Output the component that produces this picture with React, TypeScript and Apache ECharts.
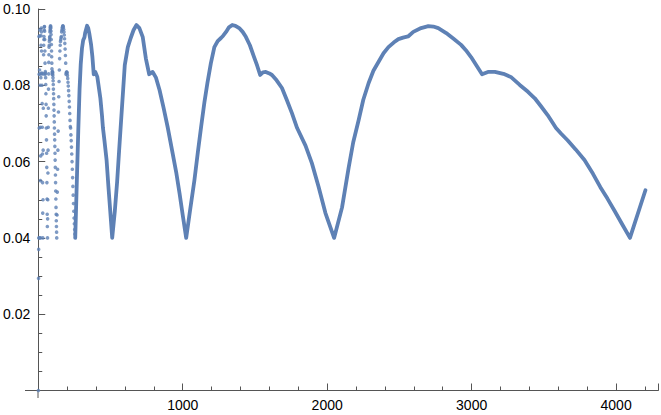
import React, { useEffect, useRef } from "react";
import * as echarts from "echarts";

// Sparse dots, n = 1..7
const dotsN1to7 = [0, 0.0294, 0.037, 0.04, 0.0928, 0.0829, 0.0688];
// n = 8..15
const dotsN8to15 = [0.04, 0.084, 0.093, 0.0945, 0.083, 0.08, 0.069, 0.055];
// n = 16..31
const dotsN16to31 = [
  0.04, 0.0615, 0.082, 0.0905, 0.093, 0.095, 0.094, 0.089, 0.083, 0.0832, 0.08,
  0.0752, 0.069, 0.062, 0.0545, 0.0465,
];
// n = 32..63
const dotsN32to63 = [
  0.04, 0.05, 0.063, 0.074, 0.083, 0.088, 0.0905, 0.092, 0.0928, 0.0945, 0.0953,
  0.0954, 0.0942, 0.092, 0.089, 0.0858, 0.0829, 0.0836, 0.0832, 0.082, 0.0802,
  0.0778, 0.075, 0.072, 0.0688, 0.0657, 0.0622, 0.0585, 0.0545, 0.0502, 0.0462,
  0.043,
];
// n = 64..127
const dotsN64to127 = [
  0.04, 0.045, 0.05, 0.057, 0.063, 0.069, 0.074, 0.079, 0.083, 0.086, 0.088,
  0.09, 0.0905, 0.0915, 0.092, 0.0925, 0.0928, 0.094, 0.0945, 0.095, 0.0953,
  0.0956, 0.0954, 0.095, 0.0942, 0.0933, 0.092, 0.0907, 0.089, 0.0875, 0.0858,
  0.0843, 0.0829, 0.0834, 0.0836, 0.0835, 0.0832, 0.0827, 0.082, 0.0812, 0.0802,
  0.079, 0.0778, 0.0765, 0.075, 0.0735, 0.072, 0.0704, 0.0688, 0.0672, 0.0657,
  0.064, 0.0622, 0.0604, 0.0585, 0.0565, 0.0545, 0.0523, 0.0502, 0.048, 0.0462,
  0.0445, 0.043, 0.0415,
];
// n = 128, 130, ..., 254
const dotsN128to254 = [
  0.04, 0.046, 0.052, 0.058, 0.063, 0.068, 0.073, 0.077, 0.081, 0.084, 0.087,
  0.089, 0.0905, 0.0915, 0.092, 0.0925, 0.0928, 0.094, 0.0945, 0.095, 0.0953,
  0.0956, 0.0955, 0.0952, 0.0947, 0.094, 0.0932, 0.0922, 0.091, 0.0895, 0.0878,
  0.0858, 0.0829, 0.0833, 0.0835, 0.0835, 0.0832, 0.0826, 0.0818, 0.0808, 0.0798,
  0.0786, 0.0773, 0.0758, 0.0743, 0.0726, 0.0708, 0.0692, 0.0688, 0.067, 0.0655,
  0.0638, 0.062, 0.06, 0.058, 0.0558, 0.0535, 0.0512, 0.049, 0.047, 0.0452,
  0.0437, 0.0422, 0.041,
];

// Dense part (n >= 256), drawn as a thick line
const curveN = [
  256, 262, 269, 277, 286, 294, 303, 311, 320, 325, 338, 346, 353, 366, 375, 384,
  389, 395, 409, 417, 430, 441, 448, 458, 473, 486, 498,
  512, 530, 546, 560, 576, 588, 599, 620, 640, 660, 680, 700, 723, 745, 768, 792,
  815, 840, 868, 896, 930, 955, 978, 1000,
  1024, 1050, 1081, 1105, 1127, 1150, 1171, 1195, 1219, 1242, 1265, 1280, 1300,
  1320, 1343, 1365, 1391, 1415, 1437, 1465, 1494, 1515, 1536, 1555, 1575, 1600,
  1618, 1650, 1687, 1720, 1756, 1792, 1850, 1894, 1940, 1988,
  2048, 2103, 2149, 2180, 2218, 2250, 2287, 2320, 2355, 2390, 2424, 2460, 2493,
  2525, 2560, 2596, 2650, 2700, 2735, 2769, 2824, 2875, 2927, 2960, 2996, 3072,
  3113, 3161, 3220, 3271, 3333, 3390, 3437, 3480, 3526, 3584, 3620, 3664, 3720,
  3781, 3840, 3891, 3940, 3988, 4040, 4096, 4203,
];
const curveV = [
  0.04, 0.048, 0.0575, 0.068, 0.079, 0.0855, 0.0898, 0.0918, 0.0926, 0.0938,
  0.0956, 0.095, 0.0937, 0.0906, 0.0874, 0.0829, 0.0835, 0.0835, 0.0822, 0.0801,
  0.0766, 0.0722, 0.0688, 0.0656, 0.0604, 0.0533, 0.0472,
  0.04, 0.047, 0.0547, 0.063, 0.0722, 0.079, 0.0853, 0.09, 0.0924, 0.0945,
  0.0958, 0.095, 0.0927, 0.087, 0.0829, 0.0835, 0.082, 0.0787, 0.074, 0.069,
  0.0622, 0.0572, 0.0517, 0.046,
  0.04, 0.047, 0.0551, 0.0625, 0.069, 0.0755, 0.0806, 0.0858, 0.09, 0.0916,
  0.0924, 0.093, 0.094, 0.0952, 0.0958, 0.0956, 0.095, 0.094, 0.0927, 0.0905,
  0.0874, 0.0852, 0.0827, 0.0834, 0.0835, 0.0831, 0.0827, 0.0813, 0.0793, 0.0762,
  0.0727, 0.0688, 0.0642, 0.0596, 0.0535, 0.0465,
  0.04, 0.048, 0.0585, 0.065, 0.0709, 0.0762, 0.0806, 0.0838, 0.0861, 0.0884,
  0.09, 0.0912, 0.0921, 0.0925, 0.0928, 0.094, 0.095, 0.0955, 0.0954, 0.095,
  0.0937, 0.0922, 0.0906, 0.0892, 0.0874, 0.0829, 0.0835, 0.0835, 0.083, 0.0822,
  0.0801, 0.0783, 0.0766, 0.0745, 0.0722, 0.0688, 0.0673, 0.0656, 0.0632, 0.0604,
  0.0568, 0.0533, 0.0503, 0.0472, 0.0437, 0.04, 0.0525,
];

const xTickLabels = ["1000", "2000", "3000", "4000"];
const yTickLabels = ["0.02", "0.04", "0.06", "0.08", "0.10"];

const COLOR = "#5e81b5";
const AXIS = "#555555";
const FONT = "Liberation Sans";

export default function App() {
  const ref = useRef<HTMLDivElement>(null);
  useEffect(() => {
    if (!ref.current) return;
    const chart = echarts.init(ref.current, undefined, { renderer: "svg" });

    const dots: number[][] = [];
    dotsN1to7.forEach((v, i) => dots.push([1 + i, v]));
    dotsN8to15.forEach((v, i) => dots.push([8 + i, v]));
    dotsN16to31.forEach((v, i) => dots.push([16 + i, v]));
    dotsN32to63.forEach((v, i) => dots.push([32 + i, v]));
    dotsN64to127.forEach((v, i) => dots.push([64 + i, v]));
    dotsN128to254.forEach((v, i) => dots.push([128 + 2 * i, v]));
    const curve = curveN.map((n, i) => [n, curveV[i]]);

    const xMax = 4290;

    chart.setOption({
      animation: false,
      grid: { left: 38, right: 0, top: 9, bottom: 24.5, containLabel: false },
      xAxis: [
        {
          type: "value",
          position: "bottom",
          min: 0,
          max: xMax,
          interval: 1000,
          axisLine: { show: true, onZero: false, lineStyle: { color: AXIS, width: 1 } },
          axisTick: { show: true, inside: true, length: 7, lineStyle: { color: AXIS } },
          splitLine: { show: false },
          axisLabel: {
            color: "#000",
            fontSize: 14,
            fontFamily: FONT,
            margin: 7,
            formatter: (v: number) => {
              const s = String(v);
              return xTickLabels.includes(s) ? s : "";
            },
          },
        },
        {
          type: "value",
          position: "bottom",
          min: 0,
          max: xMax,
          interval: 200,
          axisLine: { show: false, onZero: false },
          axisTick: { show: true, inside: true, length: 4, lineStyle: { color: AXIS } },
          splitLine: { show: false },
          axisLabel: { show: false },
        },
      ],
      yAxis: {
        type: "value",
        min: 0,
        max: 0.1,
        interval: 0.02,
        axisLine: { show: true, onZero: false, lineStyle: { color: AXIS, width: 1 } },
        axisTick: { show: true, inside: true, length: 7, lineStyle: { color: AXIS } },
        minorTick: { show: true, splitNumber: 4, length: 4, lineStyle: { color: AXIS } },
        splitLine: { show: false },
        axisLabel: {
          color: "#000",
          fontSize: 14,
          fontFamily: FONT,
          margin: 8,
          formatter: (v: number) => {
            const s = v.toFixed(2);
            return yTickLabels.includes(s) ? s : "";
          },
        },
      },
      graphic: [
        {
          type: "line",
          shape: { x1: 25, y1: 390.5, x2: 38, y2: 390.5 },
          style: { stroke: AXIS, lineWidth: 1 },
        },
        {
          type: "line",
          shape: { x1: 38, y1: 390.5, x2: 38, y2: 398 },
          style: { stroke: AXIS, lineWidth: 1 },
        },
      ],
      series: [
        {
          type: "scatter",
          xAxisIndex: 0,
          data: dots,
          symbol: "circle",
          symbolSize: 3.6,
          itemStyle: { color: COLOR },
          silent: true,
        },
        {
          type: "line",
          xAxisIndex: 0,
          data: curve,
          showSymbol: false,
          lineStyle: { color: COLOR, width: 3.8, cap: "round", join: "round" },
          silent: true,
        },
      ],
    });
    return () => chart.dispose();
  }, []);
  return <div ref={ref} style={{ width: 661, height: 415, position: "absolute", left: 0, top: 0 }} />;
}
